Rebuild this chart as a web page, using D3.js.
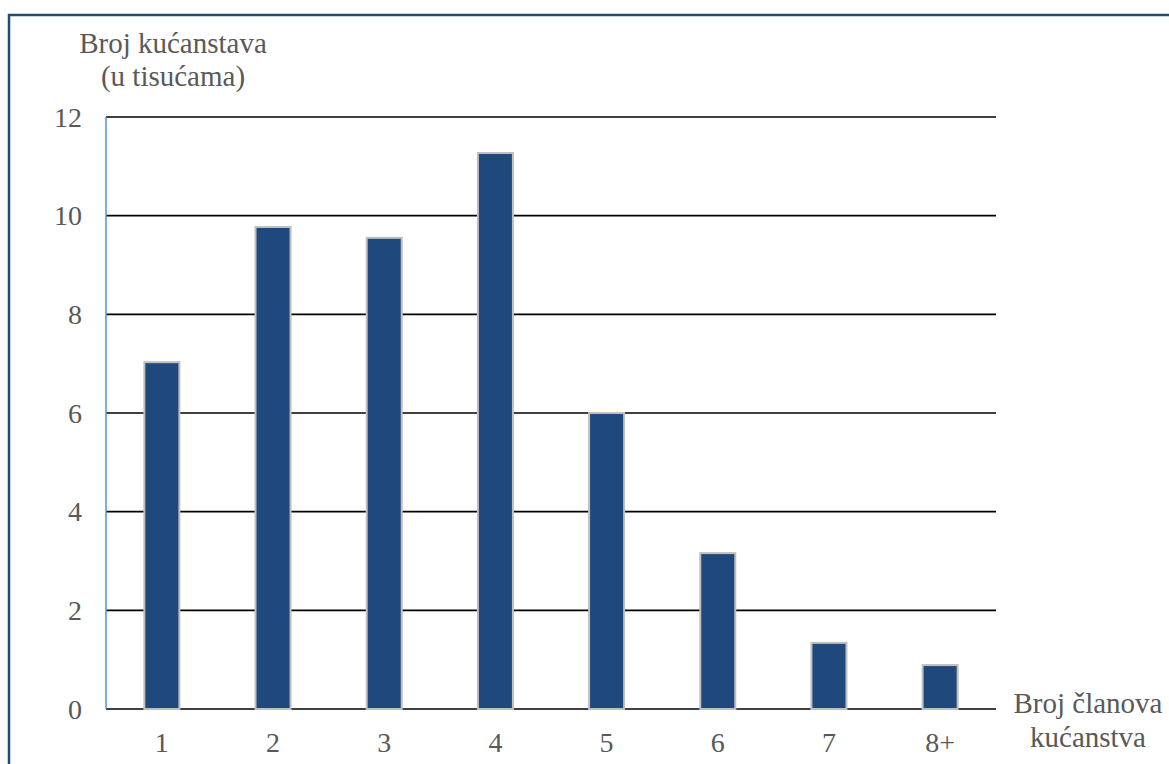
<!DOCTYPE html>
<html>
<head>
<meta charset="utf-8">
<script src="https://cdn.jsdelivr.net/npm/d3@7"></script>
<style>
  body { margin: 0; background: #fff; }
</style>
</head>
<body>
<div id="chart"></div>
<script>
const CATEGORIES = ["1", "2", "3", "4", "5", "6", "7", "8+"];
const VALUES = [7.03, 9.77, 9.55, 11.27, 6.0, 3.16, 1.34, 0.89];
const Y_TICKS = [0, 2, 4, 6, 8, 10, 12];

const FONT = '"Liberation Serif"';
const TEXT_COLOR = "#595959";

const width = 1169, height = 764;
const margin = { top: 117, right: 173, bottom: 55, left: 106 };

const svg = d3.select("#chart").append("svg")
  .attr("width", width)
  .attr("height", height);

// frame
svg.append("path")
  .attr("d", `M9,${height} V15 H${width}`)
  .attr("fill", "none")
  .attr("stroke", "#1f4e79")
  .attr("stroke-width", 2.5);

const x = d3.scaleBand()
  .domain(CATEGORIES)
  .range([margin.left, width - margin.right])
  .paddingInner(0.685)
  .paddingOuter(0.345);

const y = d3.scaleLinear()
  .domain([0, 12])
  .range([height - margin.bottom, margin.top]);

// gridlines
svg.append("g")
  .selectAll("line")
  .data(Y_TICKS)
  .join("line")
  .attr("x1", margin.left)
  .attr("x2", width - margin.right)
  .attr("y1", d => y(d))
  .attr("y2", d => y(d))
  .attr("stroke", "#000")
  .attr("stroke-width", 1.6);

// y axis line
svg.append("line")
  .attr("x1", margin.left)
  .attr("x2", margin.left)
  .attr("y1", y(12))
  .attr("y2", y(0))
  .attr("stroke", "#5b8fd0")
  .attr("stroke-width", 1.5);

// bars
svg.append("g")
  .selectAll("rect")
  .data(CATEGORIES.map((c, i) => ({ cat: c, value: VALUES[i] })))
  .join("rect")
  .attr("x", d => x(d.cat))
  .attr("y", d => y(d.value))
  .attr("width", x.bandwidth())
  .attr("height", d => y(0) - y(d.value))
  .attr("fill", "#1f497d")
  .attr("stroke", "#bfbfbf")
  .attr("stroke-width", 2);

// y tick labels
svg.append("g")
  .selectAll("text")
  .data(Y_TICKS)
  .join("text")
  .attr("x", 82)
  .attr("y", d => y(d))
  .attr("dy", "0.35em")
  .attr("text-anchor", "end")
  .attr("fill", TEXT_COLOR)
  .style("font-family", FONT)
  .style("font-size", "28px")
  .text(d => d);

// x tick labels
svg.append("g")
  .selectAll("text")
  .data(CATEGORIES)
  .join("text")
  .attr("x", d => x(d) + x.bandwidth() / 2)
  .attr("y", 752)
  .attr("text-anchor", "middle")
  .attr("fill", TEXT_COLOR)
  .style("font-family", FONT)
  .style("font-size", "28px")
  .text(d => d);

// axis titles
function title(cx, lines, ys) {
  const t = svg.append("text")
    .attr("text-anchor", "middle")
    .attr("fill", TEXT_COLOR)
    .style("font-family", FONT)
    .style("font-size", "29px");
  lines.forEach((s, i) => t.append("tspan").attr("x", cx).attr("y", ys[i]).text(s));
}
title(173, ["Broj kućanstava", "(u tisućama)"], [53, 86]);
title(1088, ["Broj članova", "kućanstva"], [713, 747]);
</script>
</body>
</html>
